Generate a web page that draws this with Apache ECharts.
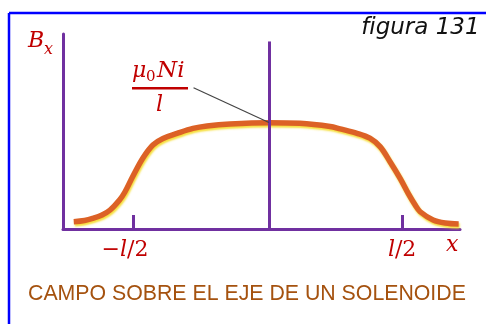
<!DOCTYPE html>
<html lang="es">
<head>
    <meta charset="UTF-8">
    <title>figura 131</title>
    <script src="https://cdn.jsdelivr.net/npm/echarts@6/dist/echarts.min.js"></script>
    <style>
        html, body { margin: 0; padding: 0; background: #fff; }
        #chart { width: 486px; height: 324px; }
    </style>
</head>
<body>
    <div id="chart"></div>
    <script>
        // posicion sobre el eje (unidades de l/2) y campo Bx (unidades de mu0*N*i/l)
        var xPos   = [-1.44, -1.36, -1.30, -1.23, -1.17, -1.10, -1.06, -1.00, -0.926, -0.852, -0.777, -0.673, -0.554, -0.45, -0.28, 0.01, 0.24, 0.465, 0.54, 0.665, 0.76, 0.836, 0.91, 0.985, 1.045, 1.097, 1.134, 1.23, 1.32, 1.42];
        var fieldB = [0.069, 0.080, 0.099, 0.131, 0.178, 0.272, 0.347, 0.498, 0.667, 0.789, 0.850, 0.897, 0.944, 0.967, 0.986, 0.998, 0.992, 0.962, 0.939, 0.898, 0.852, 0.773, 0.632, 0.476, 0.335, 0.225, 0.162, 0.085, 0.056, 0.047];
        var tickVals = [-1, 1];
        var tickLabels = ['−l/2', 'l/2'];

        var purple = '#7030a0';
        var red = '#c00000';
        var mathFont = 'DejaVu Serif';

        var curve = [];
        for (var i = 0; i < xPos.length; i++) {
            curve.push([xPos[i], fieldB[i]]);
        }

        var chart = echarts.init(document.getElementById('chart'));

        var option = {
            backgroundColor: '#fff',
            animation: false,
            grid: { left: 63, right: 26, top: 34, bottom: 95 },
            xAxis: {
                type: 'value',
                min: -1.52,
                max: 1.43,
                splitLine: { show: false },
                axisLine: { onZero: false, lineStyle: { color: purple, width: 3 } },
                axisTick: {
                    show: true, inside: true, length: 14,
                    customValues: tickVals,
                    lineStyle: { color: purple, width: 3 }
                },
                axisLabel: {
                    customValues: tickVals,
                    margin: 10,
                    formatter: function (v) {
                        var s = tickLabels[tickVals.indexOf(v)];
                        // el signo menos se dibuja recto, la l en cursiva
                        if (s.charAt(0) === '−') return '{n|−}{i|l}{n|/2}{p|}';
                        return '{i|l}{n|/2}';
                    },
                    rich: {
                        n: { fontFamily: mathFont, fontSize: 22, color: red },
                        i: { fontFamily: mathFont, fontStyle: 'italic', fontSize: 22, color: red },
                        p: { width: 16 }
                    }
                }
            },
            yAxis: {
                type: 'value',
                min: 0,
                max: 1.83,
                splitLine: { show: false },
                axisLine: { show: true, onZero: false, lineStyle: { color: purple, width: 3 } },
                axisTick: { show: false },
                axisLabel: { show: false }
            },
            series: [
                {
                    type: 'line',
                    data: curve,
                    smooth: 0.35,
                    showSymbol: false,
                    lineStyle: {
                        color: '#dc6126', width: 5.5,
                        shadowColor: 'rgba(245,220,40,0.9)', shadowBlur: 2, shadowOffsetX: 1, shadowOffsetY: 2
                    },
                    markLine: {
                        silent: true,
                        symbol: 'none',
                        label: { show: false },
                        data: [
                            [{ coord: [0.01, 0], lineStyle: { color: purple, width: 3, type: 'solid' } }, { coord: [0.01, 1.76] }],
                            [{ coord: [-0.55, 1.325], lineStyle: { color: '#444', width: 1.2, type: 'solid' } }, { coord: [0.01, 1.0] }]
                        ]
                    }
                }
            ],
            graphic: [
                // marco azul
                { type: 'line', shape: { x1: 9, y1: 13, x2: 486, y2: 13 }, style: { stroke: '#0000ff', lineWidth: 2.5 } },
                { type: 'line', shape: { x1: 9, y1: 13, x2: 9, y2: 324 }, style: { stroke: '#0000ff', lineWidth: 2.5 } },
                // figura 131
                { type: 'text', right: 6, top: 17, style: { text: 'figura 131', font: 'italic 23px "DejaVu Sans"', fill: '#111' } },
                // B_x
                { type: 'text', left: 28, top: 30, style: { text: 'B', font: 'italic 22px "DejaVu Serif"', fill: red } },
                { type: 'text', left: 44, top: 42, style: { text: 'x', font: 'italic 16px "DejaVu Serif"', fill: red } },
                // mu0 N i / l
                { type: 'text', left: 132, top: 60, style: { text: 'μ', font: 'italic 22px "DejaVu Serif"', fill: red } },
                { type: 'text', left: 146, top: 70, style: { text: '0', font: '15px "DejaVu Serif"', fill: red } },
                { type: 'text', left: 157, top: 60, style: { text: 'Ni', font: 'italic 23px "DejaVu Serif"', fill: red } },
                { type: 'rect', shape: { x: 132, y: 87, width: 56, height: 2.5 }, style: { fill: red } },
                { type: 'text', left: 156, top: 94, style: { text: 'l', font: 'italic 22px "DejaVu Serif"', fill: red } },
                // eje x
                { type: 'text', left: 446, top: 234, style: { text: 'x', font: 'italic 22px "DejaVu Serif"', fill: red } },
                // titulo
                { type: 'text', left: 28, top: 284, style: { text: 'CAMPO SOBRE EL EJE DE UN SOLENOIDE', font: '21.3px "Liberation Sans"', fill: '#a5520f' } }
            ]
        };

        chart.setOption(option);
    </script>
</body>
</html>
